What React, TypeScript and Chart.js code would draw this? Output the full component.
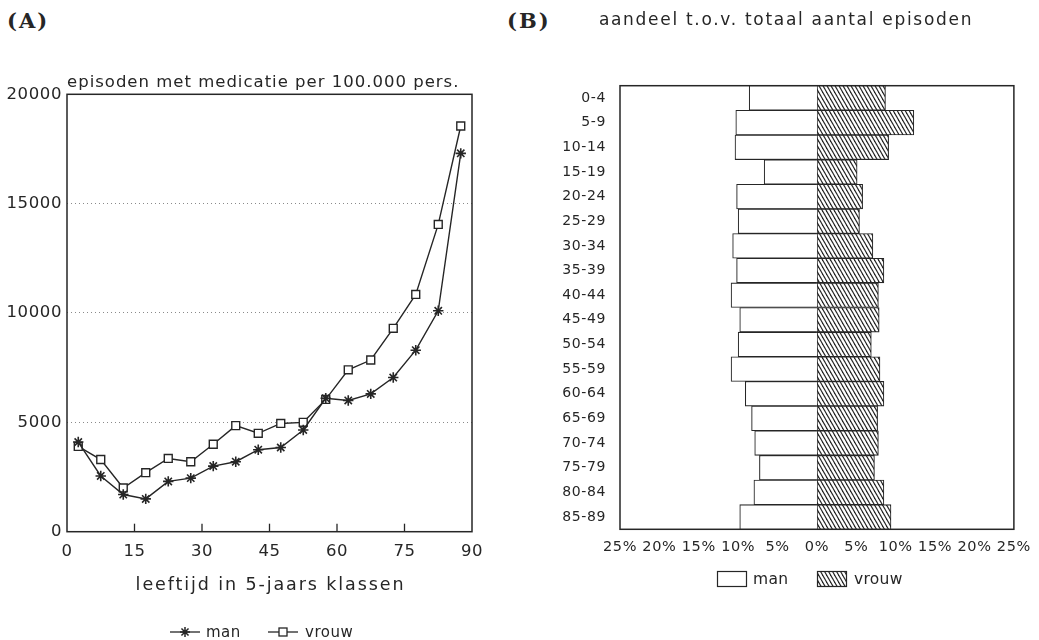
import React, { useEffect, useRef } from "react";
import { Chart, registerables } from "chart.js";

Chart.register(...registerables);

// ---- Data (A): episodes with medication per 100.000 persons, by 5-year age class
const ageMidpoints = [2.5, 7.5, 12.5, 17.5, 22.5, 27.5, 32.5, 37.5, 42.5, 47.5, 52.5, 57.5, 62.5, 67.5, 72.5, 77.5, 82.5, 87.5];
const manRate = [4100, 2550, 1700, 1500, 2300, 2450, 3000, 3200, 3750, 3850, 4650, 6100, 6000, 6300, 7050, 8300, 10100, 17300];
const vrouwRate = [3900, 3300, 2000, 2700, 3350, 3200, 4000, 4850, 4500, 4950, 5000, 6050, 7400, 7850, 9300, 10850, 14050, 18550];
const rateTickStep = 5000;
const ageTickStep = 15;

// ---- Data (B): share of total number of episodes (%)
const ageGroups = ["0-4", "5-9", "10-14", "15-19", "20-24", "25-29", "30-34", "35-39", "40-44", "45-49", "50-54", "55-59", "60-64", "65-69", "70-74", "75-79", "80-84", "85-89"];
const manShare = [8.6, 10.3, 10.4, 6.7, 10.2, 10.0, 10.7, 10.2, 10.9, 9.8, 10.0, 10.9, 9.1, 8.3, 7.9, 7.3, 8.0, 9.8];
const vrouwShare = [8.7, 12.3, 9.1, 5.1, 5.8, 5.4, 7.1, 8.5, 7.8, 7.9, 6.9, 8.0, 8.5, 7.7, 7.8, 7.3, 8.5, 9.4];
const shareTickStep = 5;

const INK = "#262626";
const FAMILY = "'DejaVu Sans', sans-serif";

function makeHatch(ctx: CanvasRenderingContext2D) {
  const w = 4, h = 7;
  const tile = document.createElement("canvas");
  tile.width = w;
  tile.height = h;
  const t = tile.getContext("2d")!;
  t.fillStyle = "#ffffff";
  t.fillRect(0, 0, w, h);
  t.strokeStyle = INK;
  t.lineWidth = 1.15;
  for (const dx of [-w, 0, w]) {
    t.beginPath();
    t.moveTo(dx - w, -h);
    t.lineTo(dx + 2 * w, 2 * h);
    t.stroke();
  }
  return ctx.createPattern(tile, "repeat")!;
}

function drawStar(ctx: CanvasRenderingContext2D, x: number, y: number, r: number) {
  ctx.beginPath();
  const d = r * Math.SQRT1_2;
  ctx.moveTo(x - r, y); ctx.lineTo(x + r, y);
  ctx.moveTo(x, y - r); ctx.lineTo(x, y + r);
  ctx.moveTo(x - d, y - d); ctx.lineTo(x + d, y + d);
  ctx.moveTo(x - d, y + d); ctx.lineTo(x + d, y - d);
  ctx.stroke();
}

export default function App() {
  const refA = useRef<HTMLCanvasElement>(null);
  const refB = useRef<HTMLCanvasElement>(null);

  useEffect(() => {
    const frame = {
      id: "frame",
      beforeDatasetsDraw(chart: any) {
        const { ctx, chartArea: a } = chart;
        ctx.save();
        ctx.strokeStyle = INK;
        ctx.lineWidth = 1.5;
        ctx.strokeRect(a.left, a.top, a.right - a.left, a.bottom - a.top);
        ctx.restore();
      },
    };

    const tickSpacing = {
      id: "tickSpacing",
      beforeDraw(chart: any) {
        (chart.ctx as any).letterSpacing = "0.6px";
      },
    };

    // ---------- Chart A ----------
    const extrasA = {
      id: "extrasA",
      beforeDatasetsDraw(chart: any) {
        const { ctx, chartArea: a, scales } = chart;
        ctx.save();
        ctx.strokeStyle = INK;
        ctx.lineWidth = 1.3;
        for (let v = ageTickStep; v < 90; v += ageTickStep) {
          const x = scales.x.getPixelForValue(v);
          ctx.beginPath();
          ctx.moveTo(x, a.bottom);
          ctx.lineTo(x, a.bottom - 8);
          ctx.stroke();
        }
        ctx.restore();
      },
      afterDraw(chart: any) {
        const { ctx, chartArea: a } = chart;
        ctx.save();
        ctx.fillStyle = INK;
        ctx.strokeStyle = INK;
        // title
        (ctx as any).letterSpacing = "1px";
        ctx.font = `16.5px ${FAMILY}`;
        ctx.textAlign = "left";
        ctx.textBaseline = "alphabetic";
        ctx.fillText("episoden met medicatie per 100.000 pers.", a.left, 87);
        // x title
        (ctx as any).letterSpacing = "1.9px";
        ctx.font = `17.5px ${FAMILY}`;
        ctx.textAlign = "center";
        ctx.fillText("leeftijd in 5-jaars klassen", (a.left + a.right) / 2 + 1, 590);
        // legend
        const ly = 632;
        (ctx as any).letterSpacing = "0.5px";
        ctx.font = `15px ${FAMILY}`;
        ctx.textAlign = "left";
        ctx.textBaseline = "middle";
        ctx.lineWidth = 1.3;
        ctx.beginPath(); ctx.moveTo(170, ly); ctx.lineTo(200, ly); ctx.stroke();
        ctx.lineWidth = 1.5;
        drawStar(ctx, 185, ly, 5);
        ctx.fillText("man", 206, ly + 1);
        ctx.lineWidth = 1.3;
        ctx.beginPath(); ctx.moveTo(268, ly); ctx.lineTo(298, ly); ctx.stroke();
        ctx.fillStyle = "#fff";
        ctx.fillRect(279, ly - 4, 8, 8);
        ctx.strokeRect(279, ly - 4, 8, 8);
        ctx.fillStyle = INK;
        ctx.fillText("vrouw", 305, ly + 1);
        ctx.restore();
      },
    };

    const chartA = new Chart(refA.current!, {
      type: "line",
      data: {
        datasets: [
          {
            label: "man",
            data: ageMidpoints.map((x, i) => ({ x, y: manRate[i] })),
            borderColor: INK,
            borderWidth: 1.4,
            pointStyle: "star",
            pointRadius: 5.2,
            pointBorderWidth: 1.6,
            pointBorderColor: INK,
            pointBackgroundColor: INK,
            tension: 0,
          },
          {
            label: "vrouw",
            data: ageMidpoints.map((x, i) => ({ x, y: vrouwRate[i] })),
            borderColor: INK,
            borderWidth: 1.4,
            pointStyle: "rect",
            pointRadius: 5.6,
            pointBorderWidth: 1.4,
            pointBorderColor: INK,
            pointBackgroundColor: "#ffffff",
            tension: 0,
          },
        ],
      },
      options: {
        responsive: false,
        animation: false,
        events: [],
        layout: { padding: { top: 94.3, right: 38, left: 0, bottom: 0 } },
        plugins: {
          legend: { display: false },
          tooltip: { enabled: false },
          title: { display: false },
        },
        scales: {
          x: {
            type: "linear",
            min: 0,
            max: 90,
            ticks: {
              stepSize: ageTickStep,
              autoSkip: false,
              maxRotation: 0,
              padding: 10,
              color: INK,
              font: { family: FAMILY, size: 16.5 },
            },
            grid: { display: false, drawTicks: false },
            border: { display: false },
            afterFit: (s: any) => { s.height = 108.3; },
          },
          y: {
            min: 0,
            max: 20000,
            ticks: {
              stepSize: rateTickStep,
              padding: 5,
              color: INK,
              font: { family: FAMILY, size: 16.5 },
              callback: (v: any) => String(v),
            },
            grid: {
              drawTicks: false,
              lineWidth: 1,
              color: (c: any) =>
                c.tick && (c.tick.value === 0 || c.tick.value === 20000) ? "rgba(0,0,0,0)" : "#8a8a8a",
            },
            border: { display: false, dash: [1, 3] },
            afterFit: (s: any) => { s.width = 67; },
          },
        },
      },
      plugins: [tickSpacing, frame, extrasA],
    } as any);

    // ---------- Chart B ----------
    const hatch = makeHatch(refB.current!.getContext("2d")!);

    const extrasB = {
      id: "extrasB",
      afterDraw(chart: any) {
        const { ctx } = chart;
        ctx.save();
        ctx.fillStyle = INK;
        ctx.strokeStyle = INK;
        (ctx as any).letterSpacing = "1.7px";
        ctx.font = `17px ${FAMILY}`;
        ctx.textAlign = "center";
        ctx.textBaseline = "alphabetic";
        ctx.fillText("aandeel t.o.v. totaal aantal episoden", 276, 25);
        // legend
        (ctx as any).letterSpacing = "0.3px";
        ctx.font = `15.5px ${FAMILY}`;
        ctx.textAlign = "left";
        ctx.textBaseline = "middle";
        ctx.lineWidth = 1.2;
        ctx.fillStyle = "#fff";
        ctx.fillRect(207.5, 571.5, 29, 15);
        ctx.strokeRect(207.5, 571.5, 29, 15);
        ctx.fillStyle = INK;
        ctx.fillText("man", 243, 579.5);
        ctx.fillStyle = hatch;
        ctx.fillRect(307.5, 571.5, 29, 15);
        ctx.strokeRect(307.5, 571.5, 29, 15);
        ctx.fillStyle = INK;
        ctx.fillText("vrouw", 344, 579.5);
        ctx.restore();
      },
    };

    const chartB = new Chart(refB.current!, {
      type: "bar",
      data: {
        labels: ageGroups,
        datasets: [
          {
            label: "man",
            data: manShare.map((v) => -v),
            backgroundColor: "#ffffff",
            borderColor: INK,
            borderWidth: 1.1,
            borderSkipped: "start",
            barPercentage: 1,
            categoryPercentage: 1,
          },
          {
            label: "vrouw",
            data: vrouwShare,
            backgroundColor: hatch,
            borderColor: INK,
            borderWidth: 1.1,
            borderSkipped: false,
            barPercentage: 1,
            categoryPercentage: 1,
          },
        ],
      },
      options: {
        indexAxis: "y",
        responsive: false,
        animation: false,
        events: [],
        layout: { padding: { top: 85.7, right: 23, left: 0, bottom: 0 } },
        plugins: {
          legend: { display: false },
          tooltip: { enabled: false },
          title: { display: false },
        },
        scales: {
          x: {
            stacked: true,
            min: -25,
            max: 25,
            ticks: {
              stepSize: shareTickStep,
              autoSkip: false,
              maxRotation: 0,
              padding: 9,
              color: INK,
              font: { family: FAMILY, size: 14.5 },
              callback: (v: any) => `${Math.abs(Number(v))}%`,
            },
            grid: { display: false, drawTicks: false },
            border: { display: false },
            afterFit: (s: any) => { s.height = 110.7; },
          },
          y: {
            stacked: true,
            ticks: {
              autoSkip: false,
              padding: 14,
              color: INK,
              font: { family: FAMILY, size: 14 },
            },
            grid: { display: false, drawTicks: false },
            border: { display: false },
            afterFit: (s: any) => { s.width = 110; },
          },
        },
      },
      plugins: [tickSpacing, frame, extrasB],
    } as any);

    return () => {
      chartA.destroy();
      chartB.destroy();
    };
  }, []);

  const labelStyle: React.CSSProperties = {
    position: "absolute",
    top: 9,
    fontFamily: "'DejaVu Serif', serif",
    fontWeight: "bold",
    fontSize: 21,
    letterSpacing: 2,
    lineHeight: "24px",
    color: INK,
  };

  return (
    <div style={{ position: "absolute", left: 0, top: 0, width: 1039, height: 640, background: "#ffffff", overflow: "hidden" }}>
      <div style={{ ...labelStyle, left: 7 }}>(A)</div>
      <div style={{ ...labelStyle, left: 507 }}>(B)</div>
      <canvas ref={refA} width={510} height={640} style={{ position: "absolute", left: 0, top: 0 }} />
      <canvas ref={refB} width={529} height={640} style={{ position: "absolute", left: 510, top: 0 }} />
    </div>
  );
}
